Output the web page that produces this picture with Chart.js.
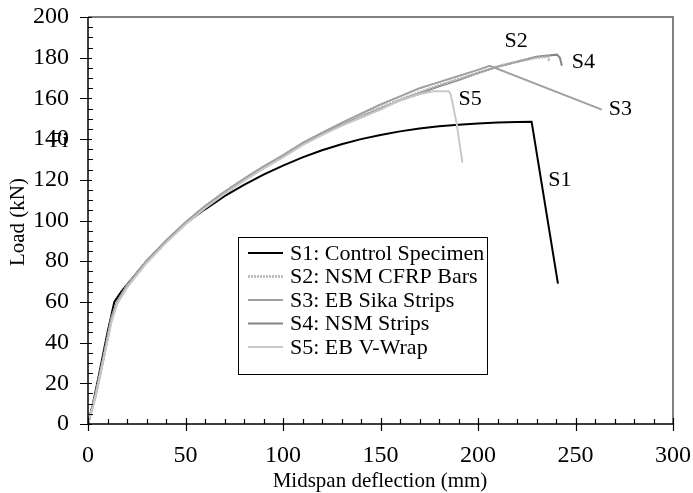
<!DOCTYPE html>
<html>
<head>
<meta charset="utf-8">
<script src="https://cdn.jsdelivr.net/npm/chart.js@4.4.1/dist/chart.umd.min.js"></script>
<style>
  html, body { margin: 0; padding: 0; background: #fff; }
  #wrap { width: 693px; height: 493px; position: relative; }
</style>
</head>
<body>
<div id="wrap"><canvas id="c" width="693" height="493"></canvas></div>
<script>
// datos (mm, kN)
const seriesNames = ['S1: Control Specimen', 'S2: NSM CFRP Bars', 'S3: EB Sika Strips', 'S4: NSM Strips', 'S5: EB V-Wrap'];

const s1x = [0, 3, 6, 10, 13.5, 17, 20, 30, 40, 50, 60, 70, 80, 90, 100, 110, 120, 130, 140, 150, 160, 170, 180, 190, 200, 210, 220, 227.5, 241];
const s1y = [0, 12, 26, 45, 60, 65, 68.5, 80, 90, 98.5, 105.5, 112, 117.5, 122.5, 127, 131, 134.5, 137.5, 140, 142, 143.8, 145.2, 146.3, 147.1, 147.7, 148.1, 148.4, 148.5, 69];

const s2x = [0, 4, 8, 12, 15, 20, 30, 40, 50, 60, 70, 80, 90, 100, 110, 120, 130, 140, 150, 160, 170, 180, 190, 200, 210, 220, 230, 236, 236.5];
const s2y = [0, 15, 33, 52, 60, 68, 80, 90, 99, 107, 114, 120.5, 126.5, 132, 138, 143, 147.5, 151.5, 155.5, 159.5, 163, 166.5, 169.5, 172.5, 175.8, 178, 180, 180.5, 178];

const s3x = [0, 4, 8, 12, 15, 20, 30, 40, 50, 60, 70, 80, 90, 100, 110, 120, 130, 140, 150, 160, 170, 180, 190, 200, 206, 263.5];
const s3y = [0, 15, 33, 52, 60, 68, 80, 90, 99, 107, 114, 120.5, 126.5, 132, 138, 143, 148, 152.5, 157, 161, 165, 168, 171, 174, 176, 154.5];

const s4x = [0, 4, 8, 12, 15, 20, 30, 40, 50, 60, 70, 80, 90, 100, 110, 120, 130, 140, 150, 160, 170, 180, 190, 200, 210, 220, 230, 240.5, 242, 243];
const s4y = [0, 14, 32, 51, 60, 68, 80, 90, 99, 107, 114, 120, 126, 131.5, 137.5, 142.5, 147, 151, 155, 159, 162.5, 166, 169, 172.5, 175.5, 178, 180.5, 181.5, 180, 176];

const s5x = [0, 4, 8, 12, 15, 20, 30, 40, 50, 60, 70, 80, 90, 100, 110, 120, 130, 140, 150, 160, 170, 177, 185, 186, 189, 192];
const s5y = [0, 14, 32, 50, 59, 67, 79, 89, 98, 106, 113, 119.5, 125.5, 131, 137, 142, 146.5, 150.5, 154.5, 159, 162, 163.5, 163.5, 162, 148, 128.5];

const xTicks = [0, 50, 100, 150, 200, 250, 300];
const yTicks = [0, 20, 40, 60, 80, 100, 120, 140, 160, 180, 200];

// etiquetas sobre las curvas (posición en datos)
const tagText = ['S1', 'S2', 'S3', 'S4', 'S5'];
const tagX = [242, 219.5, 273, 254, 196];
const tagY = [120, 188, 154.7, 177.8, 159.6];

const SERIF = '"Liberation Serif", "Times New Roman", serif';

function pts(xs, ys) { return xs.map((x, i) => ({ x, y: ys[i] })); }

const styles = [
  { color: '#000000', width: 2, dash: [] },
  { color: '#b4b4b4', width: 2.5, dash: [2, 1] },
  { color: '#a0a0a0', width: 2, dash: [] },
  { color: '#858585', width: 2, dash: [] },
  { color: '#c8c8c8', width: 2, dash: [] },
];
const allData = [pts(s1x, s1y), pts(s2x, s2y), pts(s3x, s3y), pts(s4x, s4y), pts(s5x, s5y)];

// orden de dibujo: grises primero, negro arriba
const order = [4, 2, 1, 3, 0];
const datasets = order.map((i) => ({
  label: seriesNames[i],
  data: allData[i],
  borderColor: styles[i].color,
  borderWidth: styles[i].width,
  borderDash: styles[i].dash,
  pointRadius: 0,
  fill: false,
  tension: 0,
}));

const decor = {
  id: 'decor',
  afterDraw(chart) {
    const ctx = chart.ctx;
    const xs = chart.scales.x, ys = chart.scales.y;
    const a = chart.chartArea;
    ctx.save();
    // marco gris arriba y derecha
    ctx.strokeStyle = '#808080';
    ctx.lineWidth = 2;
    ctx.beginPath();
    ctx.moveTo(a.left, a.top); ctx.lineTo(a.right, a.top); ctx.lineTo(a.right, a.bottom);
    ctx.stroke();
    // ejes
    ctx.strokeStyle = '#000';
    ctx.lineWidth = 1.5;
    ctx.beginPath();
    ctx.moveTo(a.left, a.top); ctx.lineTo(a.left, a.bottom); ctx.lineTo(a.right, a.bottom);
    ctx.stroke();
    ctx.lineWidth = 1.2;
    ctx.beginPath();
    for (let v = 0; v <= 200; v += 5) {
      const py = Math.round(ys.getPixelForValue(v)) + 0.5;
      if (v % 20 === 0) { ctx.moveTo(a.left - 8, py); ctx.lineTo(a.left + 4, py); }
      else { ctx.moveTo(a.left, py); ctx.lineTo(a.left + 5, py); }
    }
    for (let v = 0; v <= 300; v += 10) {
      const px = Math.round(xs.getPixelForValue(v)) + 0.5;
      if (v % 50 === 0) { ctx.moveTo(px, a.bottom + 7); ctx.lineTo(px, a.bottom - 6); }
      else { ctx.moveTo(px, a.bottom); ctx.lineTo(px, a.bottom - 5); }
    }
    ctx.stroke();

    // etiquetas S1..S5
    ctx.fillStyle = '#000';
    ctx.font = '22px ' + SERIF;
    ctx.textAlign = 'center';
    ctx.textBaseline = 'middle';
    tagText.forEach((t, i) => {
      ctx.fillText(t, xs.getPixelForValue(tagX[i]), ys.getPixelForValue(tagY[i]));
    });
    ctx.fillText('Fi', 59, 141);

    // leyenda dentro del área
    const lx = 238, ly = 237, lw = 249, lh = 137;
    ctx.fillStyle = '#fff';
    ctx.fillRect(lx, ly, lw, lh);
    ctx.strokeStyle = '#000';
    ctx.lineWidth = 1;
    ctx.strokeRect(lx + 0.5, ly + 0.5, lw, lh);
    ctx.textAlign = 'left';
    seriesNames.forEach((name, i) => {
      const cy = ly + 16 + i * 23.5;
      ctx.strokeStyle = styles[i].color;
      ctx.lineWidth = styles[i].width;
      ctx.setLineDash(styles[i].dash);
      ctx.beginPath();
      ctx.moveTo(lx + 10, cy); ctx.lineTo(lx + 45, cy);
      ctx.stroke();
      ctx.setLineDash([]);
      ctx.fillStyle = '#000';
      ctx.fillText(name, lx + 52, cy + 1);
    });

    // títulos de ejes
    ctx.font = '21px ' + SERIF;
    ctx.textAlign = 'center';
    ctx.fillText('Midspan deflection (mm)', 380, 481);
    ctx.translate(18, 222);
    ctx.rotate(-Math.PI / 2);
    ctx.fillText('Load (kN)', 0, 0);
    ctx.restore();
  },
};

new Chart(document.getElementById('c'), {
  type: 'line',
  data: { datasets },
  options: {
    responsive: false,
    animation: false,
    layout: { padding: { left: 0, right: 20, top: 17, bottom: 0 } },
    plugins: { legend: { display: false }, tooltip: { enabled: false } },
    scales: {
      x: {
        type: 'linear', min: 0, max: 300,
        afterBuildTicks: (s) => { s.ticks = xTicks.map((v) => ({ value: v })); },
        afterFit: (s) => { s.height = 69; s.paddingLeft = 0; s.paddingRight = 0; },
        grid: { display: false, drawTicks: false },
        border: { display: false },
        ticks: { color: '#000', padding: 17, maxRotation: 0, font: { family: SERIF, size: 24 } },
      },
      y: {
        type: 'linear', min: 0, max: 200,
        afterBuildTicks: (s) => { s.ticks = yTicks.map((v) => ({ value: v })); },
        afterFit: (s) => { s.width = 88; s.paddingTop = 0; s.paddingBottom = 0; },
        grid: { display: false, drawTicks: false },
        border: { display: false },
        ticks: { color: '#000', padding: 19, font: { family: SERIF, size: 24 } },
      },
    },
  },
  plugins: [decor],
});
</script>
</body>
</html>
